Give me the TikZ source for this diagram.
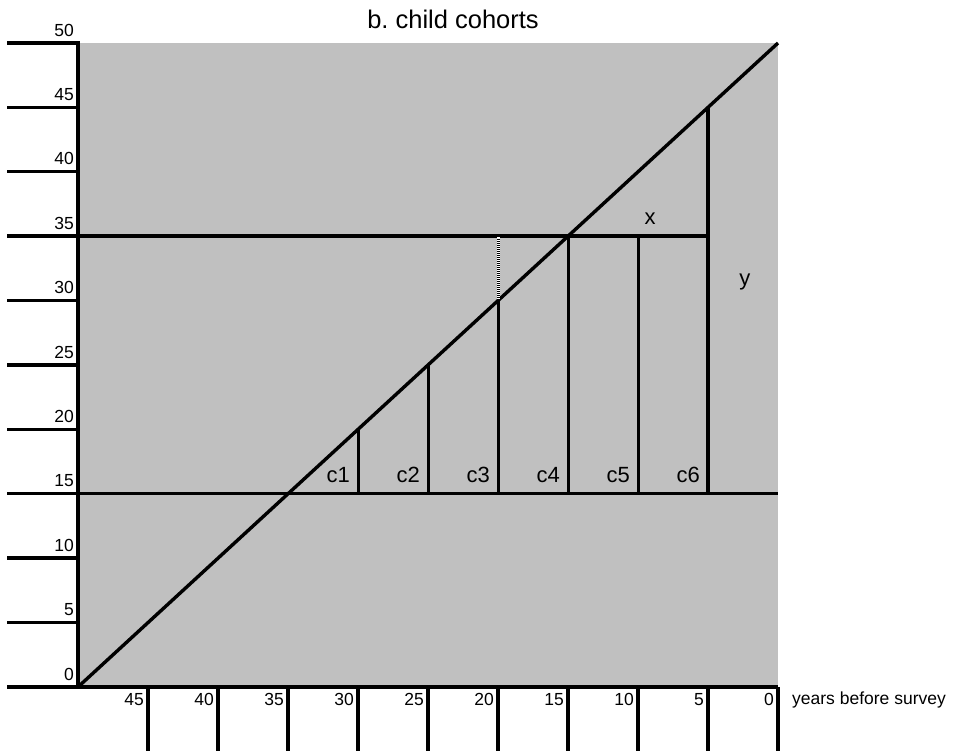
\documentclass[tikz,border=0pt]{standalone}
\usepackage{fontspec}
\setmainfont{Liberation Sans}
\definecolor{bggray}{RGB}{192,192,192}
\begin{document}
\begin{tikzpicture}[x=1pt,y=1pt,
  axisline/.style={line width=3.4pt},
  innerline/.style={line width=3pt},
  ticklab/.style={inner sep=0pt,font=\fontsize{17.5}{18}\selectfont},
  biglab/.style={inner sep=0pt,font=\fontsize{22}{24}\selectfont}]
\useasboundingbox (0,0) rectangle (953,750);
\node[inner sep=0pt,anchor=base,font=\fontsize{25.5}{27}\selectfont] (title) at (453,721) {b.\ child cohorts};
\node[ticklab,anchor=base west] (xaxlab) at (792,46) {years before survey};
\begin{scope}[shift={(778,63)},x=-14pt,y=12.88pt]
  \fill[bggray] (0,0) rectangle (50,50);
  % diagonal
  \draw[axisline] (50,0) -- (0,50);
  % y ticks and labels
  \foreach \a in {0,5,...,50}{
    \draw[axisline] (55.07,\a) -- (50,\a);
    \node[ticklab,anchor=base east] (yl\a) at (50.29,\a+0.54) {\a};
  }
  % x ticks and labels
  \foreach \t in {0,5,...,45}{
    \draw[axisline] (\t,0) -- (\t,-4.95);
    \node[ticklab,anchor=base east] (xl\t) at (\t+0.29,-1.47) {\t};
  }
  % axes
  \draw[axisline,line cap=rect] (50,0) -- (50,50);
  \draw[axisline] (55.07,0) -- (0,0);
  % horizontal lines
  \draw[axisline] (55.07,35) -- (5,35);
  \draw[axisline] (55.07,15) -- (0,15);
  % vertical cohort lines
  \draw[innerline] (30,20) -- (30,15);
  \draw[innerline] (25,25) -- (25,15);
  \draw[innerline] (20,30) -- (20,15);
  \draw[innerline] (15,35) -- (15,15);
  \draw[innerline] (10,35) -- (10,15);
  \draw[axisline] (5,45) -- (5,15);
  % dotted segment
  \draw[white,line width=3pt] (20,30.1) -- (20,34.9);
  \draw[black,line width=3pt,dash pattern=on 0.8pt off 1.2pt] (20,30.1) -- (20,34.9);
  % cohort labels
  \foreach \n/\t in {1/30,2/25,3/20,4/15,5/10,6/5}{
    \node[biglab,anchor=base east] (c\n) at (\t+0.57,15.85) {c\n};
  }
  \node[biglab,anchor=base] (xlab) at (9.14,35.87) {x};
  \node[biglab,anchor=base] (ylab) at (2.36,31.2) {y};
\end{scope}
\end{tikzpicture}
\end{document}
